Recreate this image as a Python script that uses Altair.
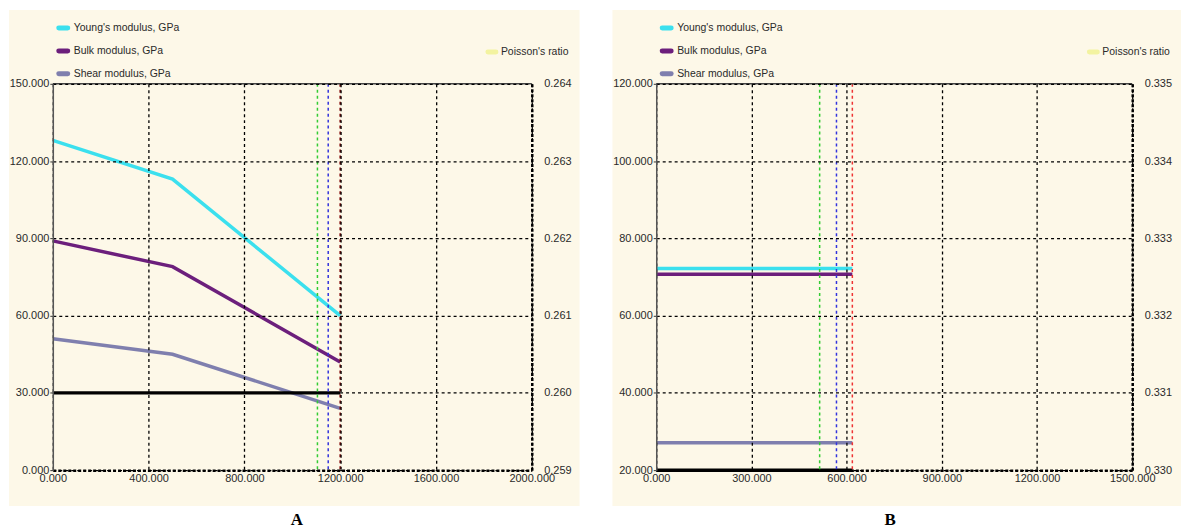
import altair as alt
import pandas as pd

FONT = "Liberation Sans"
CREAM = "#fdf8e8"
TXT = "#2a2a2a"

series_names = ["Young's modulus, GPa", "Bulk modulus, GPa", "Shear modulus, GPa"]
series_colors = ["#3be0ee", "#6c1f7c", "#7f7fae"]
poisson_name = "Poisson's ratio"
poisson_color = "#f3f3a0"

# Panel A
a_temp = [0, 500, 1200]
a_young = [128.0, 113.0, 60.0]
a_bulk = [89.0, 79.0, 42.0]
a_shear = [51.0, 45.0, 24.0]
a_poisson = [0.260, 0.260, 0.260]
a_marker_x = [1105, 1150, 1200]
a_marker_colors = ["#33cc33", "#3333dd", "#800000"]
a_x_ticks = [0, 400, 800, 1200, 1600, 2000]
a_y_ticks = [0, 30, 60, 90, 120, 150]
a_r_ticks = [0.259, 0.260, 0.261, 0.262, 0.263, 0.264]

# Panel B
b_temp = [0, 618]
b_young = [72.2, 72.2]
b_bulk = [70.7, 70.7]
b_shear = [27.1, 27.1]
b_poisson = [0.330, 0.330]
b_marker_x = [515, 568, 618]
b_marker_colors = ["#33cc33", "#3333dd", "#ee3333"]
b_x_ticks = [0, 300, 600, 900, 1200, 1500]
b_y_ticks = [20, 40, 60, 80, 100, 120]
b_r_ticks = [0.330, 0.331, 0.332, 0.333, 0.334, 0.335]

H = 388
one = pd.DataFrame({"k": [0]})


def panel(temp, young, bulk, shear, poisson, mk_x, mk_c, xt, yt, rt, W,
          bg_right, leg_x, pois_x, letter, letter_x):
    xscale = alt.Scale(domain=[xt[0], xt[-1]], nice=False, zero=False)

    def xaxis():
        return alt.Axis(values=xt, format=".3f", title=None, grid=True, orient="bottom",
                        gridDash=[3, 3], gridColor="black", gridWidth=1.3,
                        domainColor="black", domainWidth=2.5, domainDash=[3, 2],
                        ticks=False, labelPadding=2, labelFont=FONT,
                        labelFontSize=11, labelColor=TXT, zindex=1,
                        labelFlush=False, labelOverlap=False)

    rows = []
    for name, vals in zip(series_names, [young, bulk, shear]):
        for t, v in zip(temp, vals):
            rows.append({"t": t, "v": v, "s": name})
    mod_df = pd.DataFrame(rows)

    bg = alt.Chart(one).mark_rect(color=CREAM).encode(
        x=alt.value(-44), x2=alt.value(bg_right),
        y=alt.value(-74), y2=alt.value(H + 36))

    mods = alt.Chart(mod_df).mark_line(strokeWidth=3.5).encode(
        x=alt.X("t:Q", scale=xscale, axis=xaxis()),
        y=alt.Y("v:Q", scale=alt.Scale(domain=[yt[0], yt[-1]], nice=False, zero=False),
                axis=alt.Axis(values=yt, format=".3f", title=None, orient="left",
                              grid=True, gridDash=[3, 3], gridColor="black",
                              gridWidth=1.3, domainColor="#555", domainWidth=1.5,
                              tickSize=3, tickColor="#333", labelPadding=1,
                              labelFont=FONT, labelFontSize=11, labelColor=TXT,
                              zindex=1)),
        color=alt.Color("s:N", scale=alt.Scale(domain=series_names, range=series_colors),
                        legend=None),
        detail="s:N",
    )

    pois_df = pd.DataFrame({"t": temp, "p": poisson})
    pois = alt.Chart(pois_df).mark_line(strokeWidth=3.5, color="black").encode(
        x=alt.X("t:Q", scale=xscale, axis=xaxis()),
        y=alt.Y("p:Q", scale=alt.Scale(domain=[rt[0], rt[-1]], nice=False, zero=False),
                axis=alt.Axis(values=rt, format=".3f", title=None, orient="right",
                              grid=False, domainColor="black", domainWidth=2.5,
                              domainDash=[3, 2], ticks=False, labelPadding=12,
                              labelFont=FONT, labelFontSize=11, labelColor=TXT,
                              zindex=1)),
    )

    mk_df = pd.DataFrame({"x": mk_x, "c": mk_c})
    marks = alt.Chart(mk_df).mark_rule(strokeDash=[3, 3], strokeWidth=1.5).encode(
        x=alt.X("x:Q", scale=xscale, axis=xaxis()),
        color=alt.Color("c:N", scale=None),
    )

    top = alt.Chart(one).mark_rule(color="#444", strokeWidth=1.5).encode(
        x=alt.value(0), x2=alt.value(W), y=alt.value(0))

    layers = [bg, mods, pois, marks, top]
    row_y = [-56, -33, -10]
    for name, col, yy in zip(series_names, series_colors, row_y):
        layers.append(alt.Chart(one).mark_rule(color=col, strokeWidth=5, strokeCap="round").encode(
            x=alt.value(leg_x), x2=alt.value(leg_x + 9), y=alt.value(yy)))
        layers.append(alt.Chart(one).mark_text(align="left", baseline="middle", font=FONT,
                                               fontSize=10.5, color=TXT).encode(
            x=alt.value(leg_x + 15), y=alt.value(yy), text=alt.value(name)))
    layers.append(alt.Chart(one).mark_rule(color=poisson_color, strokeWidth=5, strokeCap="round").encode(
        x=alt.value(pois_x), x2=alt.value(pois_x + 8), y=alt.value(-32)))
    layers.append(alt.Chart(one).mark_text(align="left", baseline="middle", font=FONT,
                                           fontSize=10.5, color=TXT).encode(
        x=alt.value(pois_x + 13), y=alt.value(-32), text=alt.value(poisson_name)))
    layers.append(alt.Chart(one).mark_text(align="center", baseline="middle",
                                           font="Liberation Serif", fontWeight="bold",
                                           fontSize=17, color="black").encode(
        x=alt.value(letter_x), y=alt.value(H + 50), text=alt.value(letter)))

    return alt.layer(*layers).resolve_scale(y="independent").properties(width=W, height=H)


pa = panel(a_temp, a_young, a_bulk, a_shear, a_poisson, a_marker_x, a_marker_colors,
           a_x_ticks, a_y_ticks, a_r_ticks, 481, 529, 6, 437, "A", 245)
pb = panel(b_temp, b_young, b_bulk, b_shear, b_poisson, b_marker_x, b_marker_colors,
           b_x_ticks, b_y_ticks, b_r_ticks, 478, 527, 6, 435, "B", 235)

chart = alt.hconcat(pa, pb, spacing=125, bounds="flush").properties(
    padding=0
).configure_view(stroke=None).configure(background="white")

chart.save("out.html", embed_options={"renderer": "svg", "actions": False})
